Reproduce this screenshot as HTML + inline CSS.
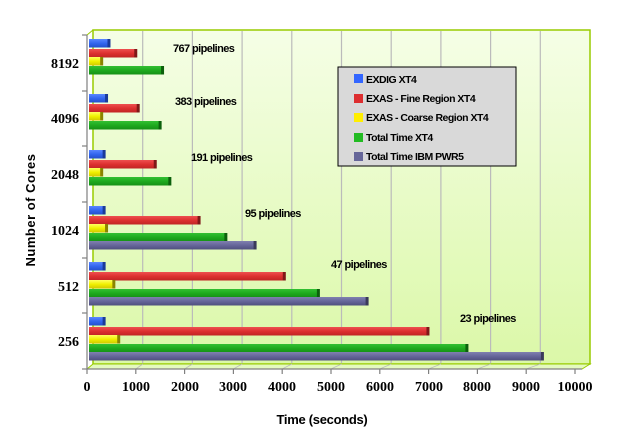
<!DOCTYPE html>
<html><head><meta charset="utf-8"><style>
html,body{margin:0;padding:0;background:#fff;}
svg{display:block;}
.t{font-family:"Liberation Serif",serif;font-weight:bold;font-size:14px;fill:#000;}
.p{font-family:"Liberation Sans",sans-serif;font-weight:bold;font-size:11px;fill:#000;letter-spacing:-0.6px;}
.l{font-family:"Liberation Sans",sans-serif;font-weight:bold;font-size:10.5px;fill:#000;letter-spacing:-0.5px;}
</style></head><body>
<svg width="617" height="439" viewBox="0 0 617 439" xmlns="http://www.w3.org/2000/svg">
<defs>
<linearGradient id="bg" x1="0" y1="0" x2="0" y2="1"><stop offset="0" stop-color="#f5fee6"/><stop offset="1" stop-color="#dbf8a8"/></linearGradient>
<linearGradient id="gB" x1="0" y1="0" x2="0" y2="1"><stop offset="0" stop-color="#5a86ff"/><stop offset="0.5" stop-color="#3366ee"/><stop offset="1" stop-color="#2450cc"/></linearGradient>
<linearGradient id="gR" x1="0" y1="0" x2="0" y2="1"><stop offset="0" stop-color="#ee5050"/><stop offset="0.5" stop-color="#dd3030"/><stop offset="1" stop-color="#c02424"/></linearGradient>
<linearGradient id="gY" x1="0" y1="0" x2="0" y2="1"><stop offset="0" stop-color="#ffff60"/><stop offset="0.5" stop-color="#f0f000"/><stop offset="1" stop-color="#d0c800"/></linearGradient>
<linearGradient id="gG" x1="0" y1="0" x2="0" y2="1"><stop offset="0" stop-color="#33c033"/><stop offset="0.5" stop-color="#1faa1f"/><stop offset="1" stop-color="#158f15"/></linearGradient>
<linearGradient id="gP" x1="0" y1="0" x2="0" y2="1"><stop offset="0" stop-color="#8080b0"/><stop offset="0.5" stop-color="#66669a"/><stop offset="1" stop-color="#50507e"/></linearGradient>
</defs>
<!-- back wall -->
<rect x="93" y="30" width="497" height="334" fill="url(#bg)" stroke="#99cc00" stroke-width="1.5"/>
<!-- floor -->
<polygon points="87,369 582,369 590,364 93,364" fill="#e4f9c0" stroke="#99cc00" stroke-width="1"/>
<line x1="87" y1="35" x2="93" y2="30" stroke="#99cc00"/>
<!-- gridlines -->
<g stroke="#bbbbbb" stroke-width="1.2">
<line x1="142.7" y1="31" x2="142.7" y2="363"/><line x1="192.4" y1="31" x2="192.4" y2="363"/>
<line x1="242.1" y1="31" x2="242.1" y2="363"/><line x1="291.8" y1="31" x2="291.8" y2="363"/>
<line x1="341.5" y1="31" x2="341.5" y2="363"/><line x1="391.2" y1="31" x2="391.2" y2="363"/>
<line x1="440.9" y1="31" x2="440.9" y2="363"/><line x1="490.6" y1="31" x2="490.6" y2="363"/>
<line x1="540.3" y1="31" x2="540.3" y2="363"/>
</g>
<g stroke="#bbbbbb" stroke-width="0.8">
<line x1="135.8" y1="369" x2="142.7" y2="364"/><line x1="184.6" y1="369" x2="192.4" y2="364"/>
<line x1="233.4" y1="369" x2="242.1" y2="364"/><line x1="282.2" y1="369" x2="291.8" y2="364"/>
<line x1="331" y1="369" x2="341.5" y2="364"/><line x1="379.8" y1="369" x2="391.2" y2="364"/>
<line x1="428.6" y1="369" x2="440.9" y2="364"/><line x1="477.4" y1="369" x2="490.6" y2="364"/>
<line x1="526.2" y1="369" x2="540.3" y2="364"/>
</g>
<!-- axes -->
<g stroke="#808080" stroke-width="1.2" fill="none">
<line x1="87" y1="35" x2="87" y2="369"/>
<line x1="87" y1="369" x2="582" y2="369"/>
<line x1="82" y1="35" x2="87" y2="35"/><line x1="82" y1="91" x2="87" y2="91"/><line x1="82" y1="146" x2="87" y2="146"/>
<line x1="82" y1="202" x2="87" y2="202"/><line x1="82" y1="258" x2="87" y2="258"/><line x1="82" y1="313" x2="87" y2="313"/><line x1="82" y1="369" x2="87" y2="369"/>
<line x1="87" y1="369" x2="87" y2="374"/><line x1="135.8" y1="369" x2="135.8" y2="374"/><line x1="184.6" y1="369" x2="184.6" y2="374"/>
<line x1="233.4" y1="369" x2="233.4" y2="374"/><line x1="282.2" y1="369" x2="282.2" y2="374"/><line x1="331" y1="369" x2="331" y2="374"/>
<line x1="379.8" y1="369" x2="379.8" y2="374"/><line x1="428.6" y1="369" x2="428.6" y2="374"/><line x1="477.4" y1="369" x2="477.4" y2="374"/>
<line x1="526.2" y1="369" x2="526.2" y2="374"/><line x1="575" y1="369" x2="575" y2="374"/>
</g>
<g id="bars"></g>
<!-- pipeline labels -->
<text class="p" x="173" y="52">767 pipelines</text>
<text class="p" x="175" y="105">383 pipelines</text>
<text class="p" x="191" y="161">191 pipelines</text>
<text class="p" x="245" y="217">95 pipelines</text>
<text class="p" x="331" y="268">47 pipelines</text>
<text class="p" x="460" y="322">23 pipelines</text>
<!-- y labels -->
<g class="t" text-anchor="end">
<text x="79" y="68">8192</text><text x="79" y="123">4096</text><text x="79" y="179">2048</text>
<text x="79" y="235">1024</text><text x="79" y="291">512</text><text x="79" y="346">256</text>
</g>
<g class="t" text-anchor="middle">
<text x="87" y="391">0</text><text x="136" y="391">1000</text><text x="185" y="391">2000</text>
<text x="233" y="391">3000</text><text x="282" y="391">4000</text><text x="331" y="391">5000</text>
<text x="380" y="391">6000</text><text x="429" y="391">7000</text><text x="477" y="391">8000</text>
<text x="526" y="391">9000</text><text x="575" y="391">10000</text>
</g>
<text class="t" x="322" y="424" text-anchor="middle" style="font-family:'Liberation Sans',sans-serif;font-size:13px;letter-spacing:-0.3px">Time (seconds)</text>
<text class="t" transform="translate(35,210) rotate(-90)" text-anchor="middle" style="font-family:'Liberation Sans',sans-serif;font-size:13px;letter-spacing:0.5px">Number of Cores</text>
<!-- legend -->
<rect x="338" y="67" width="178" height="99" fill="#d9d9d9" stroke="#000" stroke-width="1"/>
<rect x="354" y="74" width="9" height="9" fill="#3366ff"/><text class="l" x="366" y="83">EXDIG XT4</text>
<rect x="354" y="94" width="9" height="9" fill="#dd2e30"/><text class="l" x="366" y="102">EXAS - Fine Region XT4</text>
<rect x="354" y="113" width="9" height="9" fill="#ffee00"/><text class="l" x="366" y="121">EXAS - Coarse Region XT4</text>
<rect x="354" y="133" width="9" height="9" fill="#22bb22"/><text class="l" x="366" y="141">Total Time XT4</text>
<rect x="354" y="152" width="9" height="9" fill="#666699"/><text class="l" x="366" y="160">Total Time IBM PWR5</text>
</svg>
<script>
const data=[[63,[400,950,250,1500]],[118,[350,1000,250,1450]],[174,[300,1350,250,1650]],[230,[300,2250,350,2800,3400]],[286,[300,4000,500,4700,5700]],[341,[300,6950,600,7750,9300]]];
const off=[-24,-14,-6,3,11];const g=['gB','gR','gY','gG','gP'];const cap=['#1a3a9a','#801818','#8a8400','#0c600c','#3a3a5a'];
let s='';
for(const [c,v] of data){v.forEach((val,i)=>{const y=c+off[i];const w=val*0.0487;
s+=`<rect x="89" y="${y}" width="${w}" height="8.5" fill="url(#${g[i]})"/><rect x="${89+w-1}" y="${y}" width="3" height="8.5" fill="${cap[i]}"/>`;});}
document.getElementById('bars').innerHTML=s;
</script>
</body></html>
